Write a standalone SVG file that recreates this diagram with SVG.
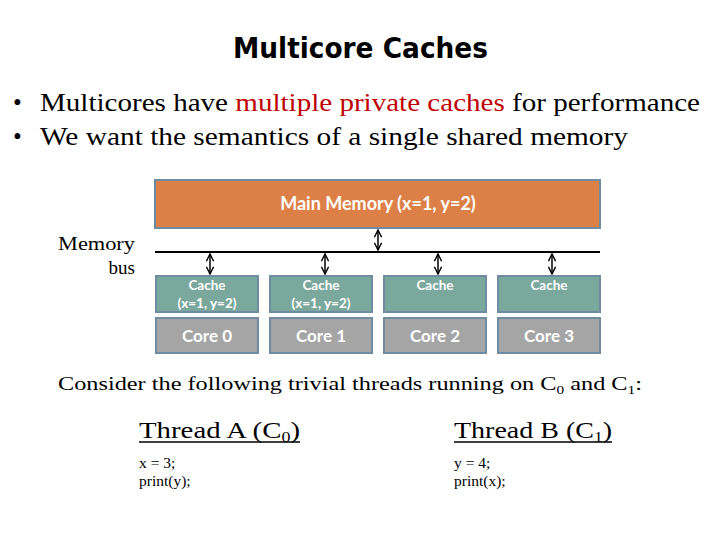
<svg xmlns="http://www.w3.org/2000/svg" width="720" height="540" viewBox="0 0 720 540">
<style>
.title{font-family:"DejaVu Sans Condensed","DejaVu Sans",sans-serif;font-weight:bold;font-size:29px;fill:#000}
.body{font-family:"Liberation Serif",serif;font-size:25px;fill:#000}
.small{font-family:"Liberation Serif",serif;font-size:19px;fill:#000}
.code{font-family:"Liberation Serif",serif;font-size:15.5px;fill:#000}
.thr{font-family:"Liberation Serif",serif;font-size:24px;fill:#000}
.box{stroke:#6F8CA3;stroke-width:2}
.lbl{font-family:"Lato","Open Sans",sans-serif;fill:#fff;text-anchor:middle}
.conn{stroke:#000;stroke-width:1.5;fill:none}
</style>
<defs>
<marker id="ah" viewBox="0 0 10 10" refX="9" refY="5" markerWidth="6" markerHeight="6" orient="auto-start-reverse">
<path d="M1,1 L9,5 L1,9" fill="none" stroke="#000" stroke-width="1.6"/>
</marker>
</defs>
<rect width="720" height="540" fill="#fff"/>
<text class="title" x="233" y="58" textLength="255" lengthAdjust="spacingAndGlyphs">Multicore Caches</text>
<text class="body" x="13" y="111">•</text>
<text class="body" x="40" y="111" textLength="660" lengthAdjust="spacingAndGlyphs">Multicores have <tspan fill="#C00000">multiple private caches</tspan> for performance</text>
<text class="body" x="13" y="145">•</text>
<text class="body" x="40" y="145" textLength="588" lengthAdjust="spacingAndGlyphs">We want the semantics of a single shared memory</text>

<g id="main-memory">
<rect class="box" x="155" y="180" width="445" height="48" fill="#DD8048"/>
<text class="lbl" x="378" y="210" font-size="18" font-weight="bold">Main Memory (x=1, y=2)</text>
</g>
<g id="bus-label">
<text class="small" x="58" y="250" textLength="77" lengthAdjust="spacingAndGlyphs">Memory</text>
<text class="small" x="135" y="274" text-anchor="end">bus</text>
</g>
<g id="cache0">
<rect class="box" x="156" y="276" width="102" height="36" fill="#7BA89D"/>
<text class="lbl" x="207" y="290" font-size="13.5" font-weight="bold">Cache</text>
<text class="lbl" x="207" y="308" font-size="13.5" font-weight="bold">(x=1, y=2)</text>
</g>
<g id="cache1">
<rect class="box" x="270" y="276" width="102" height="36" fill="#7BA89D"/>
<text class="lbl" x="321" y="290" font-size="13.5" font-weight="bold">Cache</text>
<text class="lbl" x="321" y="308" font-size="13.5" font-weight="bold">(x=1, y=2)</text>
</g>
<g id="cache2">
<rect class="box" x="384" y="276" width="102" height="36" fill="#7BA89D"/>
<text class="lbl" x="435" y="290" font-size="13.5" font-weight="bold">Cache</text>
</g>
<g id="cache3">
<rect class="box" x="498" y="276" width="102" height="36" fill="#7BA89D"/>
<text class="lbl" x="549" y="290" font-size="13.5" font-weight="bold">Cache</text>
</g>
<g id="core0">
<rect class="box" x="156" y="318" width="102" height="35" fill="#A5A5A5"/>
<text class="lbl" x="207" y="342" font-size="17" font-weight="bold">Core 0</text>
</g>
<g id="core1">
<rect class="box" x="270" y="318" width="102" height="35" fill="#A5A5A5"/>
<text class="lbl" x="321" y="342" font-size="17" font-weight="bold">Core 1</text>
</g>
<g id="core2">
<rect class="box" x="384" y="318" width="102" height="35" fill="#A5A5A5"/>
<text class="lbl" x="435" y="342" font-size="17" font-weight="bold">Core 2</text>
</g>
<g id="core3">
<rect class="box" x="498" y="318" width="102" height="35" fill="#A5A5A5"/>
<text class="lbl" x="549" y="342" font-size="17" font-weight="bold">Core 3</text>
</g>

<g id="connectors">
<line x1="155" y1="252" x2="600" y2="252" stroke="#000" stroke-width="2"/>
<line class="conn" x1="378" y1="230" x2="378" y2="250" marker-start="url(#ah)" marker-end="url(#ah)"/>
<line class="conn" x1="210" y1="254" x2="210" y2="274" marker-start="url(#ah)" marker-end="url(#ah)"/>
<line class="conn" x1="325" y1="254" x2="325" y2="274" marker-start="url(#ah)" marker-end="url(#ah)"/>
<line class="conn" x1="438" y1="254" x2="438" y2="274" marker-start="url(#ah)" marker-end="url(#ah)"/>
<line class="conn" x1="552" y1="254" x2="552" y2="274" marker-start="url(#ah)" marker-end="url(#ah)"/>
</g>

<text class="small" x="58" y="390" textLength="584" lengthAdjust="spacingAndGlyphs">Consider the following trivial threads running on C<tspan font-size="12" dy="4">0</tspan><tspan dy="-4"> and C</tspan><tspan font-size="12" dy="4">1</tspan><tspan dy="-4">:</tspan></text>

<g id="thread-a">
<text class="thr" x="139" y="438" textLength="161" lengthAdjust="spacingAndGlyphs">Thread A (C<tspan font-size="15" dy="4">0</tspan><tspan dy="-4">)</tspan></text>
<line x1="139" y1="442" x2="300" y2="442" stroke="#000" stroke-width="1.3"/>
<text class="code" x="139" y="468">x = 3;</text>
<text class="code" x="139" y="486">print(y);</text>
</g>
<g id="thread-b">
<text class="thr" x="454" y="438" textLength="158" lengthAdjust="spacingAndGlyphs">Thread B (C<tspan font-size="15" dy="4">1</tspan><tspan dy="-4">)</tspan></text>
<line x1="454" y1="442" x2="612" y2="442" stroke="#000" stroke-width="1.3"/>
<text class="code" x="454" y="468">y = 4;</text>
<text class="code" x="454" y="486">print(x);</text>
</g>
</svg>
